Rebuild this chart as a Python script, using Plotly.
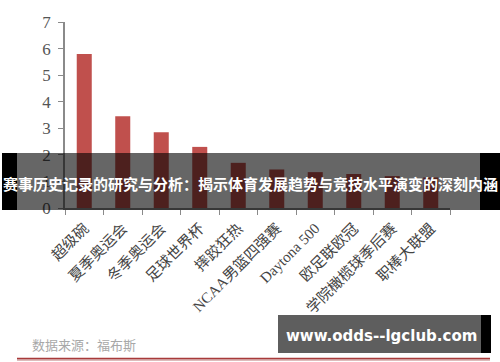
import plotly.graph_objects as go

categories = ["超级碗", "夏季奥运会", "冬季奥运会", "足球世界杯", "摔跤狂热",
              "NCAA男篮四强赛", "Daytona 500", "欧足联欧冠", "学院橄榄球季后赛", "职棒大联盟"]
values = [5.8, 3.45, 2.85, 2.3, 1.7, 1.45, 1.35, 1.28, 1.2, 1.15]
y_ticks = [0, 1, 2, 3, 4, 5, 6, 7]
title_text = "赛事历史记录的研究与分析：揭示体育发展趋势与竞技水平演变的深刻内涵"
source_text = "数据来源：福布斯"
watermark_text = "www.odds--lgclub.com"

W, H = 500, 362
L, R, T, B = 65, 50, 22, 154
PW, PH = W - L - R, H - T - B


def px(x):
    return (x - L) / PW


def py(y):
    return (H - B - y) / PH


fig = go.Figure(go.Bar(
    x=categories, y=values,
    marker=dict(color="#c0504d", line=dict(width=0)),
))

shapes = [
    # banner
    dict(type="rect", xref="paper", yref="paper", x0=px(17), x1=px(480), y0=py(153), y1=py(210),
         fillcolor="rgba(0,0,0,0.6)", line=dict(width=0)),
    dict(type="rect", xref="paper", yref="paper", x0=px(2), x1=px(17), y0=py(153), y1=py(210),
         fillcolor="#000000", line=dict(width=0)),
    dict(type="rect", xref="paper", yref="paper", x0=px(480), x1=px(500), y0=py(153), y1=py(210),
         fillcolor="#000000", line=dict(width=0)),
    # watermark box
    dict(type="rect", xref="paper", yref="paper", x0=px(278), x1=px(481), y0=py(315), y1=py(353),
         fillcolor="#5e5e5e", line=dict(width=0)),
    dict(type="rect", xref="paper", yref="paper", x0=px(481), x1=px(491), y0=py(315), y1=py(353),
         fillcolor="#000000", line=dict(width=0)),
    # bottom red line
    dict(type="line", xref="paper", yref="paper", x0=px(17), x1=px(490), y0=py(360), y1=py(360),
         line=dict(color="rgba(190,120,120,0.5)", width=2)),
    dict(type="line", xref="paper", yref="paper", x0=px(17), x1=px(490), y0=py(358.5), y1=py(358.5),
         line=dict(color="#a83a3a", width=1.5)),
]

annotations = [
    dict(text=f"<b>{title_text}</b>", xref="paper", yref="paper", x=px(250), y=py(183),
         xanchor="center", yanchor="middle", showarrow=False,
         font=dict(family="Noto Sans CJK SC", size=15, color="#ffffff")),
    dict(text=source_text, xref="paper", yref="paper", x=px(30), y=py(344),
         xanchor="left", yanchor="middle", showarrow=False,
         font=dict(family="Noto Sans CJK SC", size=13, color="#a8a8a8")),
    dict(text=f"<b>{watermark_text}</b>", xref="paper", yref="paper", x=px(381), y=py(336),
         xanchor="center", yanchor="middle", showarrow=False,
         font=dict(family="DejaVu Sans", size=15, color="#ffffff")),
]

fig.update_layout(
    width=W, height=H,
    margin=dict(l=L, r=R, t=T, b=B, autoexpand=False),
    paper_bgcolor="#ffffff", plot_bgcolor="#ffffff",
    bargap=0.61,
    showlegend=False,
    shapes=shapes,
    annotations=annotations,
    xaxis=dict(
        showline=True, linecolor="#8a8a8a", linewidth=1.5,
        ticks="outside", tickson="boundaries", ticklen=5, tickcolor="#8a8a8a",
        tickangle=-45, showgrid=False, ticklabelstandoff=4,
        tickfont=dict(family="Liberation Serif, Noto Sans CJK SC", size=15, color="#444444"),
    ),
    yaxis=dict(
        range=[0, 7], tickvals=y_ticks, ticktext=[str(v) for v in y_ticks],
        showline=True, linecolor="#8a8a8a", linewidth=1.5,
        ticks="outside", ticklen=5, tickcolor="#8a8a8a", showgrid=False, zeroline=False,
        tickfont=dict(family="Liberation Serif", size=17, color="#555555"),
        ticklabelstandoff=4,
    ),
)

fig.write_html("out.html")
